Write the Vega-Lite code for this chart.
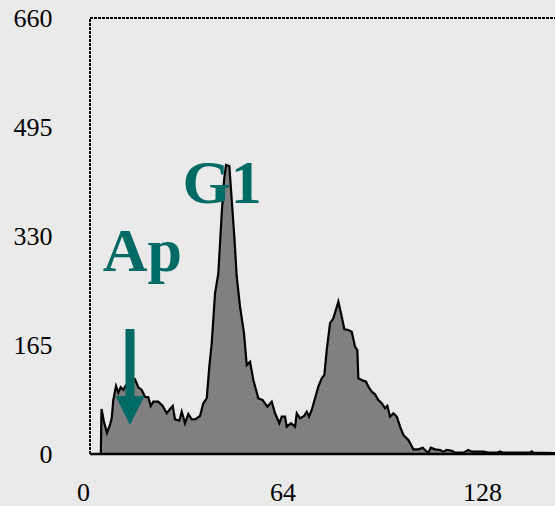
{
  "$schema": "https://vega.github.io/schema/vega-lite/v6.json",
  "width": 472,
  "height": 436,
  "autosize": "none",
  "padding": {"left": 83, "top": 18, "right": 0, "bottom": 52},
  "background": "#eaeaea",
  "config": {"view": {"stroke": null}, "font": "Liberation Serif"},
  "datasets": {
    "hist": [
      {"channel": 5.71, "count": 0}, {"channel": 5.94, "count": 68.1}, {"channel": 6.74, "count": 48.4},
      {"channel": 7.7, "count": 31.8}, {"channel": 8.66, "count": 43.9}, {"channel": 9.21, "count": 54.5},
      {"channel": 9.72, "count": 81.7}, {"channel": 10.59, "count": 102.9}, {"channel": 11.33, "count": 92.8},
      {"channel": 12.1, "count": 101}, {"channel": 12.93, "count": 96.9}, {"channel": 13.8, "count": 104.5},
      {"channel": 15.08, "count": 109}, {"channel": 16.68, "count": 113.1}, {"channel": 17.74, "count": 101},
      {"channel": 18.83, "count": 96.9}, {"channel": 19.89, "count": 86.7}, {"channel": 20.95, "count": 85.8},
      {"channel": 21.72, "count": 72.7}, {"channel": 22.55, "count": 79.2}, {"channel": 24.16, "count": 79.2},
      {"channel": 25.57, "count": 72.7}, {"channel": 26.85, "count": 61.6}, {"channel": 27.91, "count": 68.1},
      {"channel": 28.78, "count": 72.7}, {"channel": 29.52, "count": 52.5}, {"channel": 30.9, "count": 50.4},
      {"channel": 31.67, "count": 64}, {"channel": 32.72, "count": 46.5}, {"channel": 33.78, "count": 60.6},
      {"channel": 34.87, "count": 52.5}, {"channel": 35.93, "count": 52.5}, {"channel": 37.54, "count": 57.5},
      {"channel": 38.59, "count": 76.7}, {"channel": 39.69, "count": 84.3}, {"channel": 40.52, "count": 132.2},
      {"channel": 41.29, "count": 167.6}, {"channel": 42.35, "count": 243.3}, {"channel": 43.41, "count": 273.5},
      {"channel": 44.5, "count": 364.4}, {"channel": 45.24, "count": 414.8}, {"channel": 45.88, "count": 437.5},
      {"channel": 46.94, "count": 436}, {"channel": 47.71, "count": 384.5}, {"channel": 48.54, "count": 329},
      {"channel": 49.31, "count": 268.4}, {"channel": 50.37, "count": 223}, {"channel": 51.65, "count": 182.7},
      {"channel": 52.52, "count": 134.7}, {"channel": 53.58, "count": 139.7}, {"channel": 54.64, "count": 112},
      {"channel": 56.24, "count": 84.3}, {"channel": 57.65, "count": 81.7}, {"channel": 59.13, "count": 71.6},
      {"channel": 60.54, "count": 79.2}, {"channel": 61.6, "count": 61.6}, {"channel": 62.98, "count": 46.5},
      {"channel": 63.75, "count": 56.5}, {"channel": 64.81, "count": 56.5}, {"channel": 65.35, "count": 41.3},
      {"channel": 66.73, "count": 46.5}, {"channel": 68.02, "count": 41.3}, {"channel": 68.56, "count": 61.6},
      {"channel": 69.62, "count": 54}, {"channel": 70.9, "count": 57.5}, {"channel": 71.77, "count": 64},
      {"channel": 72.51, "count": 56.5}, {"channel": 73.37, "count": 66.6}, {"channel": 74.43, "count": 84.3},
      {"channel": 75.49, "count": 101.9}, {"channel": 76.58, "count": 114.6}, {"channel": 77.41, "count": 119.6},
      {"channel": 78.18, "count": 157.4}, {"channel": 79.24, "count": 197.9}, {"channel": 80.3, "count": 205.4},
      {"channel": 81.91, "count": 230.6}, {"channel": 83.0, "count": 207.8}, {"channel": 83.83, "count": 188.8},
      {"channel": 85.11, "count": 187.7}, {"channel": 86.2, "count": 185.1}, {"channel": 87.26, "count": 162.4},
      {"channel": 88.0, "count": 157.4}, {"channel": 88.32, "count": 114.6}, {"channel": 89.41, "count": 112},
      {"channel": 90.79, "count": 109.4}, {"channel": 91.53, "count": 101.9}, {"channel": 92.62, "count": 94.3},
      {"channel": 93.68, "count": 90.4}, {"channel": 94.74, "count": 81.7}, {"channel": 95.83, "count": 76.7},
      {"channel": 96.89, "count": 69.2}, {"channel": 97.63, "count": 72.7}, {"channel": 98.49, "count": 56.5},
      {"channel": 99.55, "count": 61.6}, {"channel": 100.64, "count": 56.5}, {"channel": 101.7, "count": 41.3},
      {"channel": 102.76, "count": 28.8}, {"channel": 104.36, "count": 21.2}, {"channel": 105.97, "count": 7.1},
      {"channel": 107.57, "count": 7.1}, {"channel": 108.98, "count": 9.5}, {"channel": 110.04, "count": 4.5},
      {"channel": 110.78, "count": 2}, {"channel": 111.55, "count": 9.5}, {"channel": 112.93, "count": 7.1},
      {"channel": 114.53, "count": 6.1}, {"channel": 115.59, "count": 3.5}, {"channel": 116.68, "count": 6.1},
      {"channel": 118.29, "count": 5}, {"channel": 119.35, "count": 2}, {"channel": 122.0, "count": 2},
      {"channel": 123.61, "count": 6.1}, {"channel": 124.7, "count": 3.5}, {"channel": 126.82, "count": 3.5},
      {"channel": 128.42, "count": 3.5}, {"channel": 130.03, "count": 2}, {"channel": 132.72, "count": 2},
      {"channel": 133.78, "count": 4}, {"channel": 134.84, "count": 2}, {"channel": 143.41, "count": 2.5},
      {"channel": 143.95, "count": 4}, {"channel": 144.47, "count": 2}, {"channel": 151.4, "count": 1.5}
    ],
    "notes": [
      {"label": "G1", "channel": 31.9, "count": 380},
      {"label": "Ap", "channel": 6.3, "count": 277}
    ],
    "arrows": [
      {"channel": 15.08, "count": 116.6}
    ]
  },
  "layer": [
    {
      "data": {"name": "hist"},
      "mark": {"type": "area", "color": "#808080", "stroke": "black", "strokeWidth": 2.2, "strokeJoin": "miter", "clip": true},
      "encoding": {
        "x": {
          "field": "channel", "type": "quantitative",
          "scale": {"domain": [0, 151.4], "nice": false, "zero": false},
          "axis": {"values": [0, 64, 128], "title": null, "domain": false, "ticks": false, "tickSize": 0, "grid": false,
                   "labelFont": "Liberation Serif", "labelFontSize": 26, "labelColor": "black", "labelPadding": 25,
                   "labelFlush": false, "labelOverlap": false}
        },
        "y": {
          "field": "count", "type": "quantitative",
          "scale": {"domain": [0, 660], "nice": false},
          "axis": {"values": [0, 165, 330, 495, 660], "title": null, "domain": false, "ticks": false, "tickSize": 0, "grid": false,
                   "labelFont": "Liberation Serif", "labelFontSize": 26, "labelColor": "black", "labelPadding": 31,
                   "labelFlush": false, "labelOverlap": false}
        }
      }
    },
    {
      "data": {"values": [{}]},
      "mark": {"type": "rule", "color": "black", "strokeWidth": 2, "strokeDash": [3, 1]},
      "encoding": {"x": {"datum": 2.25}, "y": {"datum": 0}, "y2": {"datum": 660}}
    },
    {
      "data": {"values": [{}]},
      "mark": {"type": "rule", "color": "black", "strokeWidth": 2, "strokeDash": [3, 1]},
      "encoding": {"x": {"datum": 2.25}, "x2": {"datum": 151.4}, "y": {"datum": 660}}
    },
    {
      "data": {"values": [{}]},
      "mark": {"type": "rule", "color": "black", "strokeWidth": 2.5},
      "encoding": {"x": {"datum": 2.25}, "x2": {"datum": 151.4}, "y": {"datum": 0}}
    },
    {
      "data": {"name": "arrows"},
      "mark": {"type": "point", "filled": true, "color": "#006a64", "opacity": 1, "strokeWidth": 0, "size": 9216,
               "shape": "M-0.094,-1L0.094,-1L0.094,0.396L0.302,0.396L0,1L-0.302,0.396L-0.094,0.396Z"},
      "encoding": {"x": {"field": "channel", "type": "quantitative"}, "y": {"field": "count", "type": "quantitative"}}
    },
    {
      "data": {"name": "notes"},
      "mark": {"type": "text", "font": "Liberation Serif", "fontSize": 62, "fontWeight": "bold", "color": "#006a64",
               "align": "left", "baseline": "alphabetic"},
      "encoding": {"x": {"field": "channel", "type": "quantitative"}, "y": {"field": "count", "type": "quantitative"},
                   "text": {"field": "label"}}
    }
  ]
}
